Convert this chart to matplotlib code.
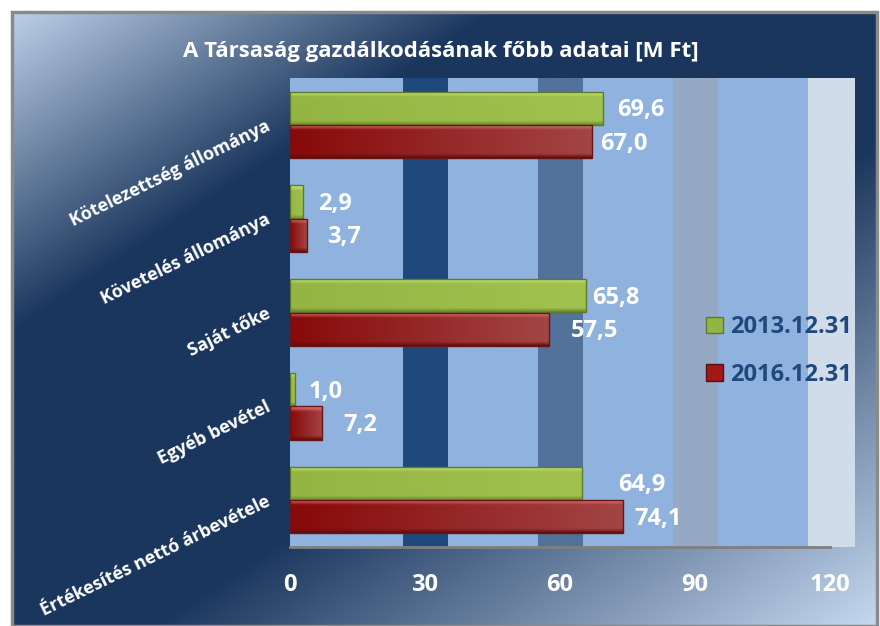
import numpy as np
import matplotlib
matplotlib.use("Agg")
import matplotlib.pyplot as plt
from matplotlib.colors import to_rgb
from matplotlib.patches import Rectangle, Patch

plt.rcParams['font.family'] = ['Open Sans', 'DejaVu Sans']

# data
title = "A Társaság gazdálkodásának főbb adatai [M Ft]"
categories = ["Kötelezettség állománya", "Követelés állománya", "Saját tőke",
              "Egyéb bevétel", "Értékesítés nettó árbevétele"]
series_names = ["2013.12.31", "2016.12.31"]
values_2013 = [69.6, 2.9, 65.8, 1.0, 64.9]
values_2016 = [67.0, 3.7, 57.5, 7.2, 74.1]
xticks = [0, 30, 60, 90, 120]

# label nudges in pixels (layout only)
dx_2013 = [14, 15, 6, 14, 36]
dx_2016 = [9, 20, 22, 21, 11]

W, H = 880, 626
fig = plt.figure(figsize=(W / 100, H / 100), dpi=100)
fig.patch.set_facecolor("white")

# background gradient of the chart area
L, T, R = 12, 12, 877
bg = fig.add_axes([L / W, 0, (R - L) / W, (H - T) / H])
px, py = np.meshgrid(np.linspace(L, R, 300), np.linspace(T, H, 220))
s = (px + 1.5 * py) / (W + 1.5 * H)
light = np.array(to_rgb("#c6d9f0"))
dark = np.array(to_rgb("#1b365d"))
w = np.interp(s, [0, 0.28, 0.6, 1.0], [0, 1, 1, 0])[..., None]
bg.imshow(light * (1 - w) + dark * w, aspect="auto", extent=[0, 1, 0, 1])
bg.set_axis_off()
fig.patches.append(Rectangle((L / W, 0), (R - L) / W, (H - T) / H, transform=fig.transFigure,
                             fill=False, edgecolor="#8a8a8a", linewidth=2.5, zorder=5))

fig.text(441 / W, 1 - 51 / H, title, color="white", fontsize=16, fontweight="bold",
         ha="center", va="center")

# plot area
x0px, x1px, y0px, y1px = 290, 855, 78, 547
ax = fig.add_axes([x0px / W, 1 - y1px / H, (x1px - x0px) / W, (y1px - y0px) / H])
ax.set_zorder(2)
xmax = 120 * (x1px - x0px) / (830 - x0px)
ax.set_facecolor("#8fb3de")
for a, b, c in [(25, 35, "#1f497d"), (55, 65, "#52719b"), (85, 95, "#95a9c4"), (115, xmax, "#d0dcea")]:
    ax.axvspan(a, b, color=c, lw=0, zorder=0)


def bar_image(top, mid_left, mid_right, bottom):
    rows, cols = 40, 200
    tcol = np.array(to_rgb(top))
    bcol = np.array(to_rgb(bottom))
    ml = np.array(to_rgb(mid_left))
    mr = np.array(to_rgb(mid_right))
    t = np.linspace(0, 1, cols)[None, :, None]
    mid = ml * (1 - t) + mr * t
    img = np.repeat(mid, rows, axis=0)
    r = np.linspace(0, 1, rows)
    hi = np.clip(1 - r / 0.16, 0, 1)[:, None, None]
    lo = np.clip((r - 0.88) / 0.12, 0, 1)[:, None, None]
    img = img * (1 - hi) + tcol * hi
    img = img * (1 - lo) + bcol * lo
    return img


h = 0.352
off = 0.178
ypos = np.arange(len(categories))
styles = [
    (values_2013, -off, ("#cde87c", "#94b543", "#a2c250", "#6d8a30"), "#5e7a2a", dx_2013),
    (values_2016, off, ("#ee7a7a", "#880909", "#a34545", "#5e0e0e"), "#6a1515", dx_2016),
]
for vals, o, cols, ec, dxs in styles:
    bars = ax.barh(ypos + o, vals, height=h, color="none", edgecolor=ec, linewidth=1.0, zorder=3)
    img = bar_image(*cols)
    for bar, v, y, d in zip(bars, vals, ypos + o, dxs):
        im = ax.imshow(img, extent=(0, v, y + h / 2, y - h / 2), aspect="auto", zorder=2,
                       interpolation="bilinear")
        im.set_clip_path(bar)
        ax.annotate(f"{v:.1f}".replace(".", ","), (v, y), xytext=(d * 0.72, -1.5),
                    textcoords="offset points", color="white", fontsize=17,
                    fontweight="bold", ha="left", va="center", zorder=4)

ax.set_xlim(0, xmax)
ax.set_ylim(len(categories) - 0.5, -0.5)
ax.plot([0, 120], [len(categories) - 0.5] * 2, color="#7f7f7f", lw=2, clip_on=False, zorder=4)
for sp in ax.spines.values():
    sp.set_visible(False)
ax.set_xticks(xticks)
ax.set_xticklabels([str(t) for t in xticks], color="white", fontsize=17, fontweight="bold")
ax.tick_params(axis="x", length=0, pad=19)
ax.set_yticks(ypos)
ax.set_yticklabels(categories, rotation=26, ha="right", va="center", rotation_mode="anchor",
                   color="white", fontsize=13, fontweight="bold")
ax.tick_params(axis="y", length=0, pad=15)

handles = [Patch(facecolor="#94b543", edgecolor="#5e7a2a"),
           Patch(facecolor="#a01818", edgecolor="#5e0e0e")]
fig.legend(handles, series_names, loc="center left", bbox_to_anchor=(706 / W, 1 - 351 / H),
           frameon=False, handlelength=0.7, handleheight=0.7, handletextpad=0.3,
           labelspacing=1.0, borderpad=0, borderaxespad=0,
           prop={"size": 17, "weight": "bold"}, labelcolor="#1f497d")

fig.savefig("out.png", dpi=100)
